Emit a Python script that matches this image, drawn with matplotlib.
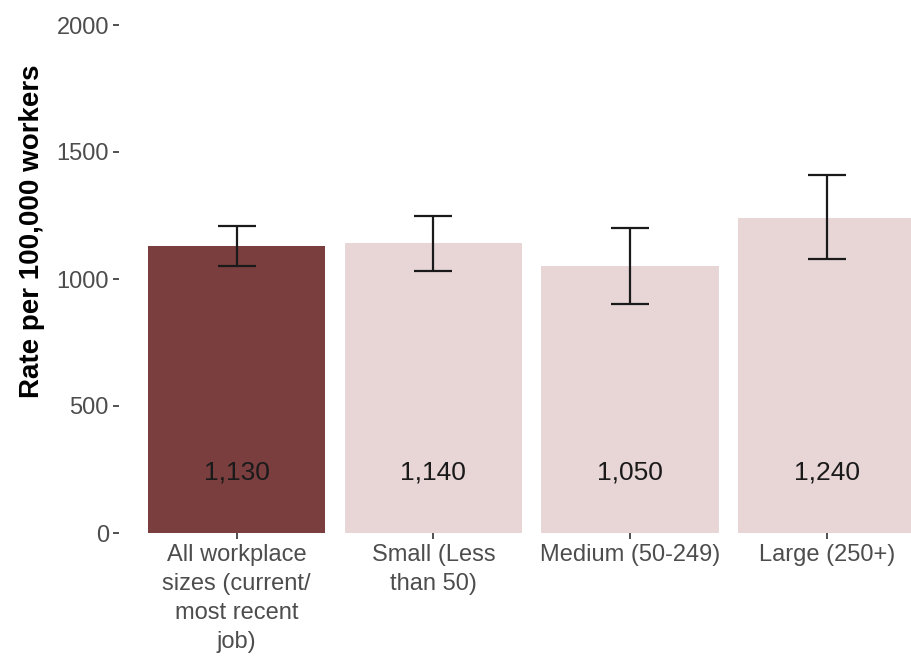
import matplotlib
matplotlib.use("Agg")
import matplotlib.pyplot as plt

categories = ["All workplace\nsizes (current/\nmost recent\njob)",
              "Small (Less\nthan 50)",
              "Medium (50-249)",
              "Large (250+)"]
rates = [1130, 1140, 1050, 1240]
lower = [1050, 1030, 900, 1080]
upper = [1210, 1250, 1200, 1410]
labels = ["1,130", "1,140", "1,050", "1,240"]

plt.rcParams['font.family'] = ['Liberation Sans', 'DejaVu Sans']

fig = plt.figure(figsize=(9.11, 6.59), dpi=100)
ax = fig.add_axes([0.1302, 1 - 533 / 659, 0.9068, 508 / 659])

x = list(range(1, len(rates) + 1))
colors = ["#7a3e3e"] + ["#e8d5d6"] * (len(rates) - 1)
ax.bar(x, rates, width=0.9, color=colors)

err_low = [r - lo for r, lo in zip(rates, lower)]
err_high = [hi - r for r, hi in zip(rates, upper)]
ax.errorbar(x, rates, yerr=[err_low, err_high], fmt='none', ecolor='#1a1a1a',
            elinewidth=1.6, capsize=14, capthick=1.6)

for xi, lab in zip(x, labels):
    ax.text(xi, 240, lab, ha='center', va='center', fontsize=19, color='#1a1a1a')

ax.set_xlim(0.4, 4.6)
ax.set_ylim(0, 2000)
ax.set_yticks([0, 500, 1000, 1500, 2000])
ax.set_xticks(x)
ax.set_xticklabels(categories, fontsize=17, color='#4d4d4d', linespacing=1.4)
ax.tick_params(axis='y', labelsize=17, labelcolor='#4d4d4d', color='#333333',
               length=4, width=1.2, pad=3)
ax.tick_params(axis='x', color='#333333', length=4, width=1.2, pad=4)
ax.set_ylabel("Rate per 100,000 workers", fontsize=20, fontweight='bold')
ax.yaxis.set_label_coords(-0.089, 0.594)

for s in ax.spines.values():
    s.set_visible(False)

fig.savefig("out.png", dpi=100)
